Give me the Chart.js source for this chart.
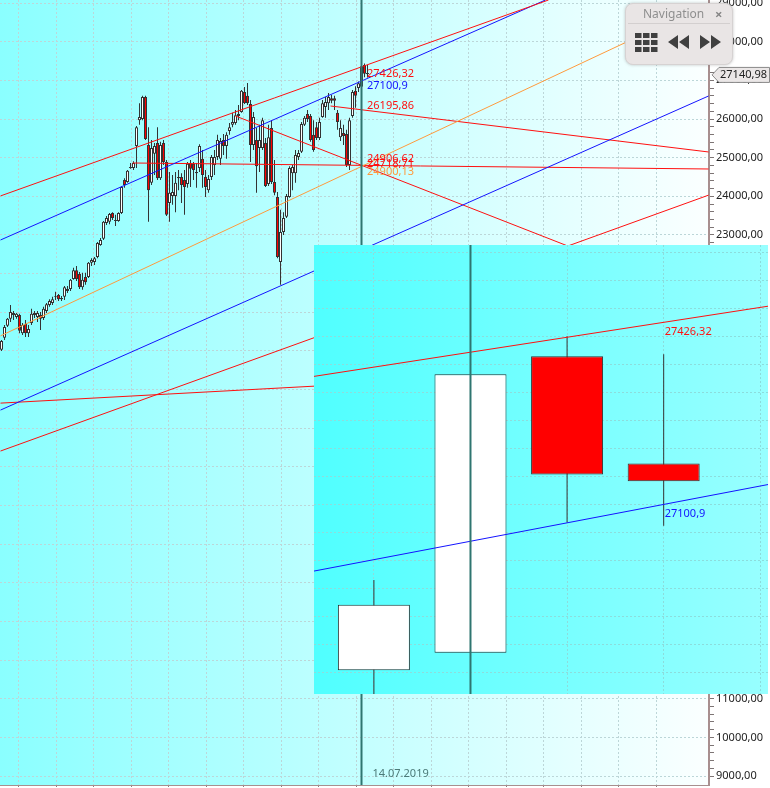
<!DOCTYPE html>
<html><head><meta charset="utf-8">
<script src="https://cdn.jsdelivr.net/npm/chart.js@4/dist/chart.umd.min.js"></script>
<style>
html,body{margin:0;padding:0;background:#fff;overflow:hidden}
#wrap{position:relative;width:770px;height:788px;font-family:"Noto Sans",sans-serif}
#main{position:absolute;left:0;top:0}
#inset{position:absolute;left:314px;top:245px}
#nav{position:absolute;left:625px;top:3px;width:106px;height:60px;border:1px solid #d6d2d2;border-radius:8px;background:#e9e5e5;box-shadow:0 0 3px rgba(120,120,120,.45)}
#nav .t{position:absolute;left:17px;top:1px;font-size:12px;color:#8f8f8f;line-height:18px}
#nav .x{position:absolute;left:89px;top:1px;font-size:13px;font-weight:bold;color:#858585;line-height:18px}
#nav .s{position:absolute;left:2px;right:2px;top:19px;height:1px;background:#d3cfcf}
#nav svg{position:absolute;left:0;top:0}
</style></head><body>
<div id="wrap">
<canvas id="main" width="770" height="788"></canvas>
<canvas id="inset" width="454" height="449"></canvas>
<div id="nav"><span class="t">Navigation</span><span class="x">×</span><div class="s"></div>
<svg width="106" height="60" fill="#404040">
<rect x="9" y="29" width="6.5" height="5"/><rect x="17" y="29" width="6.5" height="5"/><rect x="25" y="29" width="6.5" height="5"/>
<rect x="9" y="36" width="6.5" height="5"/><rect x="17" y="36" width="6.5" height="5"/><rect x="25" y="36" width="6.5" height="5"/>
<rect x="9" y="43" width="6.5" height="5"/><rect x="17" y="43" width="6.5" height="5"/><rect x="25" y="43" width="6.5" height="5"/>
<path d="M42 38 L52 31 V45 Z M53 38 L63 31 V45 Z"/><path d="M84 38 L74 31 V45 Z M95 38 L85 31 V45 Z"/>
</svg></div>
</div>
<script>
const opens=[20030,20340,20650,20830,20930,20880,20930,20460,20700,20460,20720,20930,20880,20930,20850,21030,21190,21240,21400,21450,21340,21400,21600,21600,21860,22090,21990,21650,21910,21910,22280,22300,22430,22740,22900,23310,23340,23570,23360,23360,23570,24420,24370,24760,24730,25300,25970,26000,26570,25330,24350,25100,25380,24470,25380,24890,23830,24010,24010,24500,24500,24420,24320,24860,24840,24600,24730,24970,24500,24160,24500,24810,25020,24970,25460,25300,25690,25850,25900,26080,26180,26700,26600,26390,25330,25460,25250,25250,25380,24320,25770,24370,23980,22300,23080,23470,23980,24600,24600,25020,25150,25850,26130,26080,25590,25790,25510,26050,26310,26410,26540,26540,26160,25530,25640,25610,24810,26080,26730,26801,26834,27396,27193];
const highs=[20280,20670,20850,21190,21030,20980,20960,20720,20800,20670,21090,21030,21030,21010,21140,21240,21340,21400,21530,21470,21420,21680,21680,21860,22150,22200,22040,22020,22020,22300,22400,22430,22820,22920,23360,23490,23570,23590,23520,23590,24270,24470,24680,24860,24910,25820,26410,26600,26600,25790,25460,25380,25790,25410,25460,24940,24630,24550,24630,24680,24600,24680,24890,24940,24890,24860,25350,25200,24680,24550,25070,25200,25590,25510,25610,25660,25900,26160,26230,26360,26750,26830,26930,26490,26180,25770,25850,26030,25510,25850,25970,24940,24110,23650,23590,24060,24780,24810,25200,25200,25920,26080,26230,26130,25970,25920,26030,26490,26570,26670,26620,26600,26230,25970,25850,25720,26030,26750,26850,26972,27362,27434,27400];
const lows=[20000,20280,20620,20750,20800,20830,20460,20410,20360,20360,20670,20850,20750,20540,20800,20980,21140,21190,21320,21290,21290,21320,21500,21550,21840,21810,21600,21580,21710,21890,22200,22220,22400,22720,22870,23260,23280,23390,23230,23340,23540,24220,24350,24710,24680,24730,25850,25970,25460,23340,24290,24550,24420,24420,24810,23490,23340,23780,23590,24160,23830,23520,24220,24240,24420,24220,24630,24220,23980,24090,24420,24550,24940,24810,25070,24970,25590,25790,25850,25970,26160,26390,26360,24890,25200,24090,24630,25200,24240,24270,24320,24030,22400,21710,23000,23440,23960,24160,24350,24940,25120,25820,25920,25410,25150,25460,25460,26030,26030,26230,26410,26230,25720,25430,25330,24760,24680,26030,26290,26700,26834,27081,27075];
const closes=[20260,20620,20830,21010,20980,20960,20520,20670,20460,20570,20960,20980,20980,20830,21090,21210,21290,21340,21420,21340,21370,21650,21550,21840,22090,21860,21650,21840,21780,22280,22350,22400,22790,22870,23340,23440,23540,23440,23390,23570,24240,24290,24660,24730,24860,25790,26050,26570,25480,24160,25250,25300,24470,25330,24890,23520,24090,24110,24350,24470,24290,24240,24840,24710,24680,24630,25300,24550,24240,24450,25020,25020,25460,25430,25300,25590,25790,25920,26100,26130,26730,26410,26410,25330,26050,24780,25460,25970,24270,25530,24370,24090,22430,23080,23440,24010,24730,24760,25070,25120,25870,26030,26000,25460,25200,25510,25920,26410,26440,26570,26470,26470,25920,25770,25560,24810,25970,26700,26600,26925,27362,27172,27159];
const yTickValues=[9000,9200,9400,9600,9800,10000,10200,10400,10600,10800,11000,11200,11400,11600,11800,12000,12200,12400,12600,12800,13000,13200,13400,13600,13800,14000,14200,14400,14600,14800,15000,15200,15400,15600,15800,16000,16200,16400,16600,16800,17000,17200,17400,17600,17800,18000,18200,18400,18600,18800,19000,19200,19400,19600,19800,20000,20200,20400,20600,20800,21000,21200,21400,21600,21800,22000,22200,22400,22600,22800,23000,23200,23400,23600,23800,24000,24200,24400,24600,24800,25000,25200,25400,25600,25800,26000,26200,26400,26600,26800,27000,27200,27400,27600,27800,28000,28200,28400,28600,28800,29000];
const xTickValues=[5.83,18.3,30.8,43.3,55.8,68.3,80.8,93.3,105.8,118.2,130.7,143.2,155.7,168.2,180.7,193.2,205.7,218.2];
const insetXTicks=[119,120,121,122,123];
const insetYTicks=[27592,27539,27486,27433,27380,27327,27274,27221,27168,27115,27062,27009,26956,26903,26850,26797];
const redTop=[[-0.33,24010],[182.33,29079]];
const blueTop=[[-0.33,22870],[181.33,29079]];
const orangeMid=[[-0.33,20390],[209.67,28040]];
const blueLow=[[-0.33,18470],[235.67,26595]];
const redLow=[[-0.33,17410],[235.67,24030]];
const redFlat=[[-0.33,18650],[235.67,19640]];
const redFan=[[78,26078],[193,22586]];
const redShort=[[109.67,26337],[235.67,25147]];
const redLevel=[[43.67,24862],[235.67,24707]];
const cursorIndex=120;
const cursorDate="14.07.2019";
const currentPrice=27140.98;
const currentPriceLabel="27140,98";
const mainLabelTexts=["27426,32","27100,9","26195,86","24906,62","24718,71","24900,13"];
const mainLabelValues=[27426.32,27100.9,26195.86,24906.62,24718.71,24900.13];
const insetLabelTexts=["27426,32","27100,9"];
const insetLabelValues=[27426.32,27100.9];
const insetRed=[[118.38,27358],[123.08,27491]];
const insetBlue=[[118.38,26989],[123.08,27153]];
const insetFirst=119;

const RED='#ff1010',BLUE='#1414ff',ORANGE='#ff9a3c',TEAL='#2f7570',INK='#333333';
const mainLabelColors=[RED,BLUE,RED,RED,RED,ORANGE];
const mainLabelShift=[10,9.5,-6,-2,-5,10.5];
const insetLabelColors=[RED,BLUE];
const insetLabelShift=[-8,2];

function pts(a){return a.map(p=>({x:p[0],y:p[1]}));}
function lineDs(a,color,w){return {type:'line',data:pts(a),borderColor:color,borderWidth:w||1,pointRadius:0,tension:0,order:0,fill:false};}
function candleDs(first,bodyW){
  const wick=[],up=[],down=[];
  for(let i=first;i<opens.length;i++){
    wick.push({x:i,y:[lows[i],highs[i]]});
    const b={x:i,y:[Math.min(opens[i],closes[i]),Math.max(opens[i],closes[i])]};
    (closes[i]>=opens[i]?up:down).push(b);
  }
  const base={type:'bar',grouped:false,inflateAmount:0,borderSkipped:false};
  return [
    {...base,data:wick,barThickness:1,backgroundColor:INK,borderWidth:0,order:3},
    {...base,data:up,barThickness:bodyW,backgroundColor:'#ffffff',borderColor:INK,borderWidth:1,order:2},
    {...base,data:down,barThickness:bodyW,backgroundColor:'#ff0000',borderColor:INK,borderWidth:1,order:2}
  ];
}
function bgPlugin(c0,c1){return {id:'bg',beforeDraw(ch){
  const a=ch.chartArea,g=ch.ctx.createLinearGradient(a.left,0,a.right,0);
  g.addColorStop(0,c0);g.addColorStop(1,c1);
  ch.ctx.save();ch.ctx.fillStyle=g;ch.ctx.fillRect(a.left,a.top,a.right-a.left,a.bottom-a.top);ch.ctx.restore();
}};}
function labelPlugin(texts,values,colors,shifts,xIdx,dx){return {id:'lbl',afterDatasetsDraw(ch){
  const c=ch.ctx,xs=ch.scales.x,ys=ch.scales.y;
  c.save();c.font='11px "Noto Sans"';c.textBaseline='middle';c.textAlign='left';
  texts.forEach((t,i)=>{c.fillStyle=colors[i];c.fillText(t,xs.getPixelForValue(xIdx)+dx,ys.getPixelForValue(values[i])+shifts[i]);});
  c.restore();
}};}
const extras={id:'extras',afterDraw(ch){
  const c=ch.ctx,xs=ch.scales.x,ys=ch.scales.y;
  c.save();
  c.font='11px "Noto Sans"';c.fillStyle='#4c7a78';c.textBaseline='middle';c.textAlign='left';
  c.fillText(cursorDate,xs.getPixelForValue(cursorIndex)+11,774);
  const y=ys.getPixelForValue(currentPrice);
  c.beginPath();c.moveTo(712,y);c.lineTo(719,y-7.5);c.lineTo(769.5,y-7.5);c.lineTo(769.5,y+7.5);c.lineTo(719,y+7.5);c.closePath();
  c.fillStyle='#ebe7e7';c.fill();c.strokeStyle='#8a8a8a';c.lineWidth=1;c.stroke();
  c.fillStyle='#222';c.fillText(currentPriceLabel,720,y);
  c.restore();
}};

new Chart(document.getElementById('main'),{
  type:'bar',
  data:{datasets:[
    lineDs([[cursorIndex,8000],[cursorIndex,30000]],TEAL,2),
    lineDs(redTop,RED),lineDs(blueTop,BLUE),lineDs(orangeMid,ORANGE),lineDs(blueLow,BLUE),lineDs(redLow,RED),lineDs(redFlat,RED),lineDs(redFan,RED),lineDs(redShort,RED),lineDs(redLevel,RED),
    ...candleDs(0,3)
  ]},
  options:{
    responsive:false,animation:false,devicePixelRatio:1,
    layout:{padding:0},
    plugins:{legend:{display:false},tooltip:{enabled:false}},
    scales:{
      x:{type:'linear',offset:false,min:-0.5,max:235.83,position:'bottom',
        afterBuildTicks(s){s.ticks=xTickValues.map(v=>({value:v}));},
        afterFit(s){s.height=3;s.paddingLeft=0;s.paddingRight=0;},
        ticks:{display:false},
        border:{color:'#a88f8f',width:1,dash:[2,2]},
        grid:{offset:false,color:'#bcd6d8',tickColor:'#8d8080',tickLength:2,lineWidth:1}},
      y:{type:'linear',position:'right',min:8770,max:29079,
        afterBuildTicks(s){s.ticks=yTickValues.map(v=>({value:v}));},
        afterFit(s){s.width=61;s.paddingTop=0;s.paddingBottom=0;},
        ticks:{autoSkip:false,padding:2,color:'#222',font:{family:'"Noto Sans"',size:11},
          callback:v=>v%1000===0?v+',00':''},
        border:{color:'#a88f8f',width:2,dash:[2,2]},
        grid:{color:c=>c.tick&&c.tick.value%1000===0?'#bcd6d8':'transparent',tickColor:'#7d7575',tickLength:5}}
    }
  },
  plugins:[bgPlugin('#8affff','#fbffff'),labelPlugin(mainLabelTexts,mainLabelValues,mainLabelColors,mainLabelShift,122,-0.5),extras]
});

new Chart(document.getElementById('inset'),{
  type:'bar',
  data:{datasets:[
    lineDs([[cursorIndex,26000],[cursorIndex,28000]],TEAL,2),
    lineDs(insetRed,RED),lineDs(insetBlue,BLUE),
    ...candleDs(insetFirst,72)
  ]},
  options:{
    responsive:false,animation:false,devicePixelRatio:1,
    layout:{padding:0},
    plugins:{legend:{display:false},tooltip:{enabled:false}},
    scales:{
      x:{type:'linear',offset:false,min:118.38,max:123.08,
        afterBuildTicks(s){s.ticks=insetXTicks.map(v=>({value:v}));},
        afterFit(s){s.height=0;s.paddingLeft=0;s.paddingRight=0;},
        ticks:{display:false},border:{display:false,dash:[2,2]},
        grid:{offset:false,color:'#8cdcdc',drawTicks:false}},
      y:{type:'linear',min:26756,max:27607,position:'left',
        afterBuildTicks(s){s.ticks=insetYTicks.map(v=>({value:v}));},
        afterFit(s){s.width=0;s.paddingTop=0;s.paddingBottom=0;},
        ticks:{display:false},border:{display:false,dash:[2,2]},
        grid:{color:'#8cdcdc',drawTicks:false}}
    }
  },
  plugins:[bgPlugin('#50ffff','#98ffff'),labelPlugin(insetLabelTexts,insetLabelValues,insetLabelColors,insetLabelShift,122,1)]
});
</script>
</body></html>
